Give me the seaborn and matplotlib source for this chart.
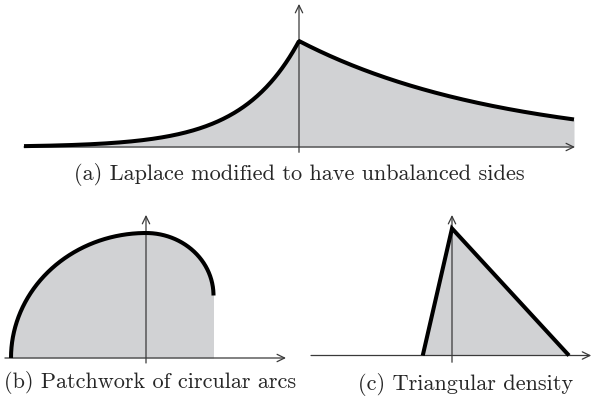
import matplotlib
matplotlib.use("Agg")
import matplotlib.pyplot as plt
import numpy as np
import pandas as pd
import seaborn as sns

sns.set_theme(style="white")
plt.rcParams['font.family'] = ['cmr10', 'DejaVu Serif']

# (a) Laplace with unbalanced sides: peak height and decay rates of each side
laplace_peak = 1.0
laplace_rates = [1.75, 0.49]          # left, right
laplace_range = [-2.75, 2.75]

# (b) patchwork of circular arcs: big quarter circle left, small one right
arc_left_radius = 1.0
arc_right_center = 0.5
arc_right_radius = 0.5

# (c) triangular density (min, mode, max) and peak height
tri_x = [-0.25, 0.0, 1.0]
tri_y = [0.0, 1.6, 0.0]

captions = ["(a) Laplace modified to have unbalanced sides",
            "(b) Patchwork of circular arcs",
            "(c) Triangular density"]

# curves
xa = np.linspace(laplace_range[0], laplace_range[1], 600)
ya = np.where(xa < 0, laplace_peak * np.exp(laplace_rates[0] * xa),
              laplace_peak * np.exp(-laplace_rates[1] * xa))
df_a = pd.DataFrame({'x': xa, 'y': ya})

t1 = np.linspace(np.pi, np.pi / 2, 300)
t2 = np.linspace(np.pi / 2, 0, 300)
xb = np.concatenate([arc_left_radius * np.cos(t1), arc_right_radius * np.cos(t2)[1:]])
yb = np.concatenate([arc_left_radius * np.sin(t1),
                     arc_right_center + arc_right_radius * np.sin(t2)[1:]])
df_b = pd.DataFrame({'x': xb, 'y': yb})

df_c = pd.DataFrame({'x': tri_x, 'y': tri_y})

W, H = 592, 403
fig = plt.figure(figsize=(W / 100, H / 100), dpi=100)


def make_ax(box, origin, unit):
    # box = (left, top, right, bottom) in pixels, origin/unit in pixels
    l, t, r, b = box
    ax = fig.add_axes([l / W, 1 - b / H, (r - l) / W, (b - t) / H])
    ax.set_xlim((l - origin[0]) / unit[0], (r - origin[0]) / unit[0])
    ax.set_ylim((origin[1] - b) / unit[1], (origin[1] - t) / unit[1])
    ax.axis('off')
    return ax


def arrows(ax, xr, yr):
    kw = dict(arrowstyle='->,head_length=0.45,head_width=0.22', lw=0.9,
              color='#3a3a3a', shrinkA=0, shrinkB=0)
    ax.annotate('', xy=(xr[1], 0), xytext=(xr[0], 0), arrowprops=kw, zorder=2)
    ax.annotate('', xy=(0, yr[1]), xytext=(0, yr[0]), arrowprops=kw, zorder=2)


line_kw = dict(color='black', lw=2.9, solid_capstyle='butt', solid_joinstyle='miter',
               zorder=3, legend=False)
fill_color = '#d1d2d4'

ax_a = make_ax((0, 0, 592, 165), (299, 147), (100, 106))
ax_a.fill_between(df_a['x'], 0, df_a['y'], color=fill_color, lw=0, zorder=1)
arrows(ax_a, (-2.75, 2.76), (-0.05, 1.35))
sns.lineplot(data=df_a, x='x', y='y', ax=ax_a, **line_kw)
ax_a.axis('off')

ax_b = make_ax((0, 205, 296, 370), (146, 358), (135, 125))
ax_b.fill_between(df_b['x'], 0, df_b['y'], color=fill_color, lw=0, zorder=1)
arrows(ax_b, (-1.045, 1.037), (-0.04, 1.145))
sns.lineplot(data=df_b, x='x', y='y', ax=ax_b, sort=False, **line_kw)
ax_b.axis('off')

ax_c = make_ax((296, 205, 592, 370), (452, 355.5), (117, 79.4))
ax_c.fill_between(df_c['x'], 0, df_c['y'], color=fill_color, lw=0, zorder=1)
arrows(ax_c, (-1.205, 1.19), (-0.085, 1.77))
sns.lineplot(data=df_c, x='x', y='y', ax=ax_c, sort=False, **line_kw)
ax_c.axis('off')

fs = 16
fig.text(299 / W, 1 - 175 / H, captions[0], ha='center', va='center', fontsize=fs)
fig.text(150 / W, 1 - 383 / H, captions[1], ha='center', va='center', fontsize=fs)
fig.text(466 / W, 1 - 384 / H, captions[2], ha='center', va='center', fontsize=fs)

fig.savefig("out.png", dpi=100)
